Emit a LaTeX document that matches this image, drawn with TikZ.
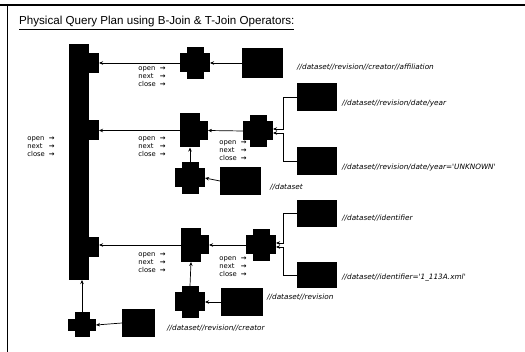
\documentclass[tikz,border=0pt]{standalone}
\usepackage{fontspec}
\setmainfont{Liberation Sans}
\newfontfamily\lblfont{DejaVu Sans}
\usetikzlibrary{arrows.meta}
\newcommand\onclabel{\begin{tabular}{@{}l@{\hspace{4pt}}r@{}}open&\textbf{→}\\next&\textbf{→}\\close&\textbf{→}\end{tabular}}
\begin{document}
\begin{tikzpicture}[x=1pt,y=-1pt,
  blk/.style={fill=black,draw=none,inner sep=0pt,outer sep=0pt,rectangle},
  crossop/.style={rectangle,inner sep=0pt,outer sep=0pt,minimum width=30pt,minimum height=32pt,
     path picture={\fill ([yshift=6.5pt]path picture bounding box.south west) rectangle ([yshift=-6.5pt]path picture bounding box.north east);
                   \fill ([xshift=6.5pt]path picture bounding box.south west) rectangle ([xshift=-6.5pt]path picture bounding box.north east);}},
  darkbox/.style={blk,minimum width=40pt,minimum height=28pt},
  tabbox/.style={blk,minimum width=10pt,minimum height=20pt,anchor=west},
  tjbody/.style={blk,minimum width=20pt,minimum height=34pt},
  arr/.style={-{Stealth[length=4pt,width=3.5pt]},line width=0.7pt},
  lbl/.style={font=\lblfont\fontsize{7.3}{8}\selectfont\itshape,anchor=west,inner sep=0pt},
  onc/.style={font=\lblfont\fontsize{6.8}{7.6}\selectfont,inner sep=0pt}
]
\useasboundingbox (0,0) rectangle (525,352);
% frame
\draw[line width=1.2pt] (0,5) -- (525,5);
\draw[line width=0.6pt] (7,5) -- (7,352);
% title
\node[anchor=west,inner sep=0pt,font=\fontsize{11.6}{13}\selectfont] (title) at (19,23) {\underline{Physical Query Plan using B-Join \& T-Join Operators:}};
% main bar
\node[blk,minimum width=20pt,minimum height=236pt] (bar) at (79,162) {};
\node[tabbox] (tab1) at (89,63) {};
\node[tabbox] (tab2) at (89,130) {};
\node[tabbox] (tab3) at (89,247) {};
% T-joins
\node[tjbody] (tj2) at (190,130.5) {};
\node[blk,minimum width=8pt,minimum height=19pt,anchor=west] (tj2t) at (tj2.east) {};
\node[tjbody] (tj3) at (191,245) {};
\node[blk,minimum width=8pt,minimum height=19pt,anchor=west] (tj3t) at (tj3.east) {};
% crosses
\node[crossop] (c1) at (195,63) {};
\node[crossop] (c2a) at (258,131) {};
\node[crossop] (c2b) at (190,178) {};
\node[crossop] (c3a) at (261,245) {};
\node[crossop] (c3b) at (190,302) {};
\node[crossop,minimum width=28pt,minimum height=25pt] (c4) at (82,325) {};
% boxes
\node[darkbox,minimum width=41pt,minimum height=30pt] (b1) at (262.5,63) {};
\node[darkbox] (b2t) at (317,97) {};
\node[darkbox] (b2b) at (317,161) {};
\node[darkbox,minimum width=41pt] (b2c) at (240.5,181) {};
\node[darkbox,minimum height=27pt] (b3t) at (317,213.5) {};
\node[darkbox,minimum height=26pt] (b3b) at (317,275) {};
\node[darkbox,minimum width=42pt] (b3c) at (242,302) {};
\node[darkbox,minimum width=33pt] (b4) at (138.5,323) {};
% connectors
\draw[arr] (b1.west) -- (c1.east);
\draw[arr] (c1.west) -- (tab1.east);
\draw[arr] (tj2.west) -- (tj2.west -| tab2.east);
\draw[arr] (c2a.west) -- (tj2t.east);
\draw[arr] (b2t.west) -- ++(-14,0) |- ([yshift=2pt]c2a.east);
\draw[arr] (b2b.west) -- ++(-14,0) |- ([yshift=-2pt]c2a.east);
\draw[arr] (b2c.west) -- (c2b.east);
\draw[arr] (c2b.north) -- (tj2.south);
\draw[arr] (tj3.west) -- (tj3.west -| tab3.east);
\draw[arr] (c3a.west) -- (tj3t.east);
\draw[arr] (b3t.west) -- ++(-14,0) |- ([yshift=2pt]c3a.east);
\draw[arr] (b3b.west) -- ++(-14,0) |- ([yshift=-2pt]c3a.east);
\draw[arr] (b3c.west) -- (c3b.east);
\draw[arr] (c3b.north) -- (tj3.south);
\draw[arr] (b4.west) -- (c4.east);
\draw[arr] (c4.north) -- (c4.north |- bar.south);
% labels
\node[lbl] (l1) at (297,67) {//dataset//revision//creator//affiliation};
\node[lbl] (l2) at (342,103) {//dataset//revision/date/year};
\node[lbl] (l3) at (342,167) {//dataset//revision/date/year='UNKNOWN'};
\node[lbl] (l4) at (270,187) {//dataset};
\node[lbl] (l5) at (342,218) {//dataset//identifier};
\node[lbl] (l6) at (342,278) {//dataset//identifier='1\_113A.xml'};
\node[lbl] (l7) at (267,297) {//dataset//revision};
\node[lbl] (l8) at (167,328) {//dataset//revision//creator};
% open/next/close
\node[onc] (o1) at (152,77) {\onclabel};
\node[onc] (o2) at (152,147) {\onclabel};
\node[onc] (o3) at (152,263) {\onclabel};
\node[onc] (o4) at (41,147) {\onclabel};
\node[onc] (o5) at (233,151) {\onclabel};
\node[onc] (o6) at (233,267) {\onclabel};
\end{tikzpicture}
\end{document}
